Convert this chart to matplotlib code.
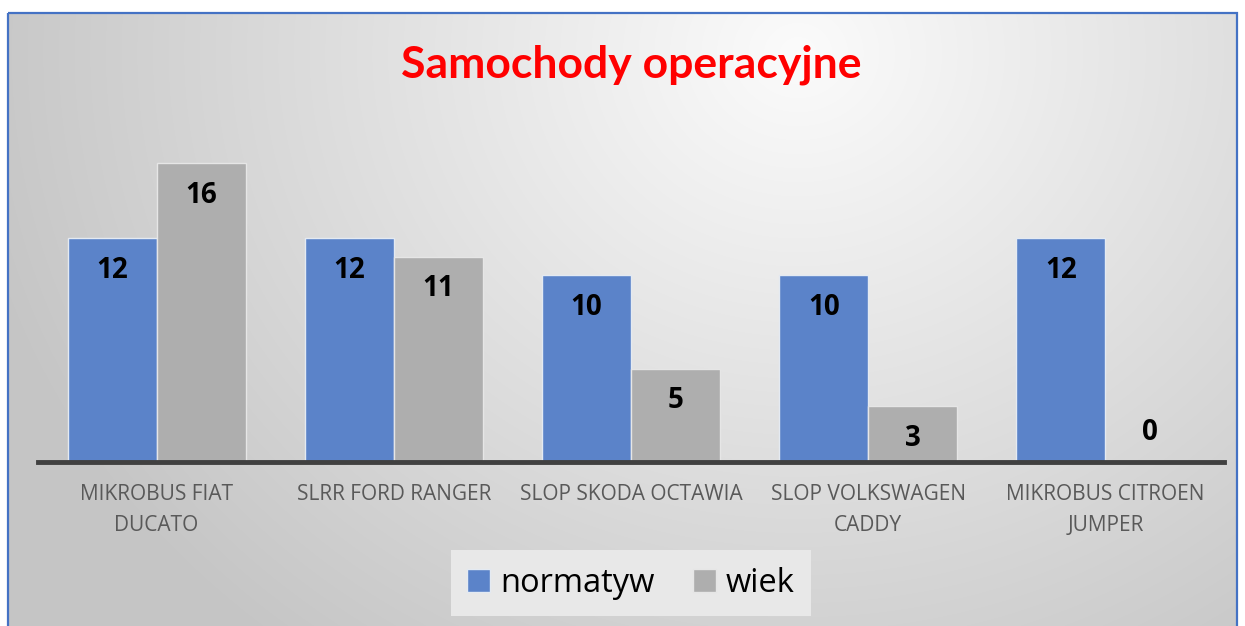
import numpy as np
import matplotlib
matplotlib.use("Agg")
import matplotlib.pyplot as plt
from matplotlib.patches import Rectangle

categories = ["MIKROBUS FIAT\nDUCATO", "SLRR FORD RANGER", "SLOP SKODA OCTAWIA",
              "SLOP VOLKSWAGEN\nCADDY", "MIKROBUS CITROEN\nJUMPER"]
normatyw = [12, 12, 10, 10, 12]
wiek = [16, 11, 5, 3, 0]
series_names = ["normatyw", "wiek"]
title = "Samochody operacyjne"

W, H = 1245, 626
fig = plt.figure(figsize=(W / 100, H / 100), dpi=100)
fig.patch.set_facecolor("white")

# gradient background inside the border
bg = fig.add_axes([0, 0, 1, 1], zorder=0)
bg.axis("off")
yy, xx = np.mgrid[0:H, 0:W]
cx, cy = 800, 40
d = np.sqrt(((xx - cx) / 850.0) ** 2 + ((yy - cy) / 750.0) ** 2)
d = np.clip(d, 0, 1)
val = 0.985 - 0.21 * d
img = np.dstack([val, val, val])
bg.imshow(img, extent=(8, 1237, 640, 13), aspect="auto", interpolation="bilinear")
bg.add_patch(Rectangle((8, 13), 1229, 640, fill=False, edgecolor="#4472C4", lw=1.6))
bg.set_xlim(0, W)
bg.set_ylim(H, 0)

fig.text(631 / W, 1 - 65 / H, title, color="#FF0000", fontsize=32, fontweight="bold",
         family="Lato", ha="center", va="center")

ax = fig.add_axes([38 / W, 164 / H, 1186 / W, 336 / H], zorder=1)
ax.patch.set_alpha(0)
x = np.arange(len(categories))
bw = 0.375
b1 = ax.bar(x - bw / 2, normatyw, bw, color="#5B83C9", edgecolor="#E4EAF2", lw=1.0,
            label=series_names[0])
b2 = ax.bar(x + bw / 2, wiek, bw, color="#AEAEAE", edgecolor="#E6E6E6", lw=1.0,
            label=series_names[1])
ax.set_xlim(-0.5, len(categories) - 0.5)
ax.set_ylim(0, 18)
for s in ["top", "right", "left"]:
    ax.spines[s].set_visible(False)
ax.spines["bottom"].set_color("#404040")
ax.spines["bottom"].set_linewidth(3.5)
ax.set_yticks([])
ax.set_xticks(x)
ax.set_xticklabels(categories, fontsize=15, color="#595959", family="Open Sans",
                   linespacing=1.6)
ax.tick_params(axis="x", length=0, pad=16)

for bars, vals in ((b1, normatyw), (b2, wiek)):
    for r, v in zip(bars, vals):
        off = -32 if v > 0 else 30
        ax.annotate(str(v), (r.get_x() + r.get_width() / 2, v), xytext=(0, off * 0.72),
                    textcoords="offset points", ha="center", va="center",
                    fontsize=20, fontweight="bold", family="Open Sans", color="black")

leg = fig.legend(handles=[b1, b2], labels=series_names, loc="center",
                 bbox_to_anchor=(631 / W, 1 - 583 / H), ncol=2, frameon=True,
                 prop={"family": "Open Sans", "size": 23.5}, handlelength=0.7,
                 handleheight=0.7, handletextpad=0.3, columnspacing=1.2,
                 borderpad=0.5, fancybox=False)
leg.get_frame().set_facecolor("#E8E8E8")
leg.get_frame().set_edgecolor("none")
leg.get_frame().set_alpha(1)

fig.savefig("out.png", dpi=100)
